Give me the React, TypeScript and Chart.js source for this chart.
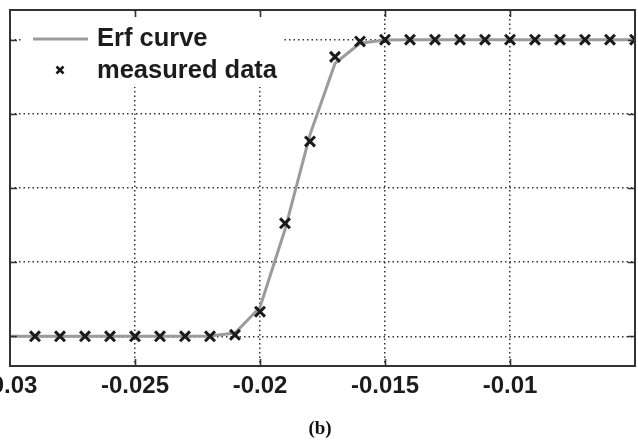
import React, { useEffect, useRef } from "react";
import { Chart, registerables } from "chart.js";

Chart.register(...registerables);

// ---- data ----
const measuredX = [
  -0.029, -0.028, -0.027, -0.026, -0.025, -0.024, -0.023, -0.022, -0.021, -0.02,
  -0.019, -0.018, -0.017, -0.016, -0.015, -0.014, -0.013, -0.012, -0.011, -0.01,
  -0.009, -0.008, -0.007, -0.006, -0.005,
];
const measuredY = [
  0, 0, 0, 0, 0, 0, 0, 0, 0.005, 0.083,
  0.381, 0.657, 0.942, 0.994, 1, 1, 1, 1, 1, 1,
  1, 1, 1, 1, 1,
];
const curveX = [
  -0.03, -0.029, -0.028, -0.027, -0.026, -0.025, -0.024, -0.023, -0.022, -0.021,
  -0.02, -0.019, -0.018, -0.017, -0.016, -0.015, -0.014, -0.013, -0.012, -0.011,
  -0.01, -0.009, -0.008, -0.007, -0.006, -0.005,
];
const curveY = [
  0, 0, 0, 0, 0, 0, 0, 0, 0.001, 0.011,
  0.098, 0.36, 0.68, 0.92, 0.988, 0.999, 1, 1, 1, 1,
  1, 1, 1, 1, 1, 1,
];
const xTicks = [-0.03, -0.025, -0.02, -0.015, -0.01];
const yTicks = [0, 0.25, 0.5, 0.75, 1];
const xRange = [-0.03, -0.005];
const yRange = [-0.1, 1.1];
const seriesLabels = ["Erf curve", "measured data"];
const caption = "(b)";

const SANS = "'Liberation Sans', Arial, Helvetica, sans-serif";
const SERIF = "'Liberation Serif', 'Times New Roman', serif";
const TEXT = "#1c1c1c";
const CURVE = "#9b9b9b";
const MARK = "#1a1a1a";
const FRAME = "#333333";

const CANVAS_W = 705;
const CANVAS_H = 444;
const SHIFT = 60;

const framePlugin = {
  id: "frameAndLegend",
  beforeDatasetsDraw(chart: any) {
    const { ctx, chartArea } = chart;
    const L = chartArea.left;
    const T = chartArea.top;
    ctx.save();
    // legend background (hides grid)
    ctx.fillStyle = "#ffffff";
    ctx.fillRect(L + 13, T + 2, 260, 75);
    // line sample
    ctx.strokeStyle = CURVE;
    ctx.lineWidth = 3;
    ctx.beginPath();
    ctx.moveTo(L + 23, T + 29);
    ctx.lineTo(L + 78, T + 29);
    ctx.stroke();
    // cross sample
    const cx = L + 50;
    const cy = T + 60;
    const h = 3.5;
    ctx.strokeStyle = MARK;
    ctx.lineWidth = 2.5;
    ctx.beginPath();
    ctx.moveTo(cx - h, cy - h);
    ctx.lineTo(cx + h, cy + h);
    ctx.moveTo(cx - h, cy + h);
    ctx.lineTo(cx + h, cy - h);
    ctx.stroke();
    // text
    ctx.fillStyle = TEXT;
    ctx.font = `bold 25.5px ${SANS}`;
    ctx.textAlign = "left";
    ctx.textBaseline = "alphabetic";
    ctx.fillText(seriesLabels[0], L + 87, T + 36);
    ctx.fillText(seriesLabels[1], L + 87, T + 68);
    ctx.restore();
  },
  afterDraw(chart: any) {
    const { ctx, chartArea, scales } = chart;
    const { left, right, top, bottom } = chartArea;
    ctx.save();
    ctx.strokeStyle = FRAME;
    ctx.lineWidth = 1.6;
    const tl = 7;
    ctx.beginPath();
    xTicks.forEach((v) => {
      const px = Math.round(scales.x.getPixelForValue(v)) + 0.5;
      if (px <= left + 1 || px >= right - 1) return;
      ctx.moveTo(px, top);
      ctx.lineTo(px, top + tl);
      ctx.moveTo(px, bottom);
      ctx.lineTo(px, bottom - tl);
    });
    yTicks.forEach((v) => {
      const py = Math.round(scales.y.getPixelForValue(v)) + 0.5;
      if (py <= top + 1 || py >= bottom - 1) return;
      ctx.moveTo(left, py);
      ctx.lineTo(left + tl, py);
      ctx.moveTo(right, py);
      ctx.lineTo(right - tl, py);
    });
    ctx.stroke();
    // frame
    ctx.lineWidth = 2;
    ctx.strokeRect(left, top, right - left, bottom - top);
    // caption
    ctx.fillStyle = "#111";
    ctx.font = `bold 19px ${SERIF}`;
    ctx.textAlign = "center";
    ctx.textBaseline = "alphabetic";
    ctx.fillText(caption, SHIFT + 320, 434);
    ctx.restore();
  },
};

const fmt = (v: number) => String(Number(v.toFixed(4)));

export default function App() {
  const ref = useRef<HTMLCanvasElement | null>(null);

  useEffect(() => {
    if (!ref.current) return;
    const chart = new Chart(ref.current, {
      type: "scatter",
      data: {
        datasets: [
          {
            type: "line",
            label: seriesLabels[0],
            data: curveX.map((x, i) => ({ x, y: curveY[i] })),
            borderColor: CURVE,
            backgroundColor: CURVE,
            borderWidth: 3,
            pointRadius: 0,
            tension: 0,
            fill: false,
            order: 2,
          } as any,
          {
            type: "scatter",
            label: seriesLabels[1],
            data: measuredX.map((x, i) => ({ x, y: measuredY[i] })),
            pointStyle: "crossRot",
            pointRadius: 7,
            pointBorderWidth: 3,
            borderColor: MARK,
            backgroundColor: MARK,
            clip: 0,
            order: 1,
          } as any,
        ],
      },
      options: {
        responsive: false,
        animation: false,
        layout: { padding: { left: SHIFT + 10, right: 2, top: 7, bottom: 0 } },
        plugins: {
          legend: { display: false },
          tooltip: { enabled: false },
        },
        scales: {
          x: {
            type: "linear",
            min: xRange[0],
            max: xRange[1],
            afterBuildTicks: (s: any) => {
              s.ticks = xTicks.map((value) => ({ value }));
            },
            afterFit: (s: any) => {
              s.height = 78;
              s.paddingLeft = 0;
              s.paddingRight = 0;
            },
            grid: { color: "#333333", lineWidth: 1.5, drawTicks: false },
            border: { display: false, dash: [1.5, 3] },
            ticks: {
              padding: 6,
              autoSkip: false,
              maxRotation: 0,
              color: TEXT,
              font: { family: SANS, size: 24, weight: "bold" },
              callback: (v: any) => fmt(Number(v)),
            },
          },
          y: {
            type: "linear",
            min: yRange[0],
            max: yRange[1],
            afterBuildTicks: (s: any) => {
              s.ticks = yTicks.map((value) => ({ value }));
            },
            afterFit: (s: any) => {
              s.width = 0;
              s.paddingTop = 0;
              s.paddingBottom = 0;
            },
            grid: { color: "#333333", lineWidth: 1.5, drawTicks: false },
            border: { display: false, dash: [1.5, 3] },
            ticks: { display: false },
          },
        },
      } as any,
      plugins: [framePlugin],
    });
    return () => chart.destroy();
  }, []);

  return (
    <div
      style={{
        position: "absolute",
        left: 0,
        top: 0,
        width: 638,
        height: 444,
        overflow: "hidden",
        background: "#fff",
      }}
    >
      <canvas
        ref={ref}
        width={CANVAS_W}
        height={CANVAS_H}
        style={{ position: "absolute", left: -SHIFT, top: 0, width: CANVAS_W, height: CANVAS_H }}
      />
    </div>
  );
}
